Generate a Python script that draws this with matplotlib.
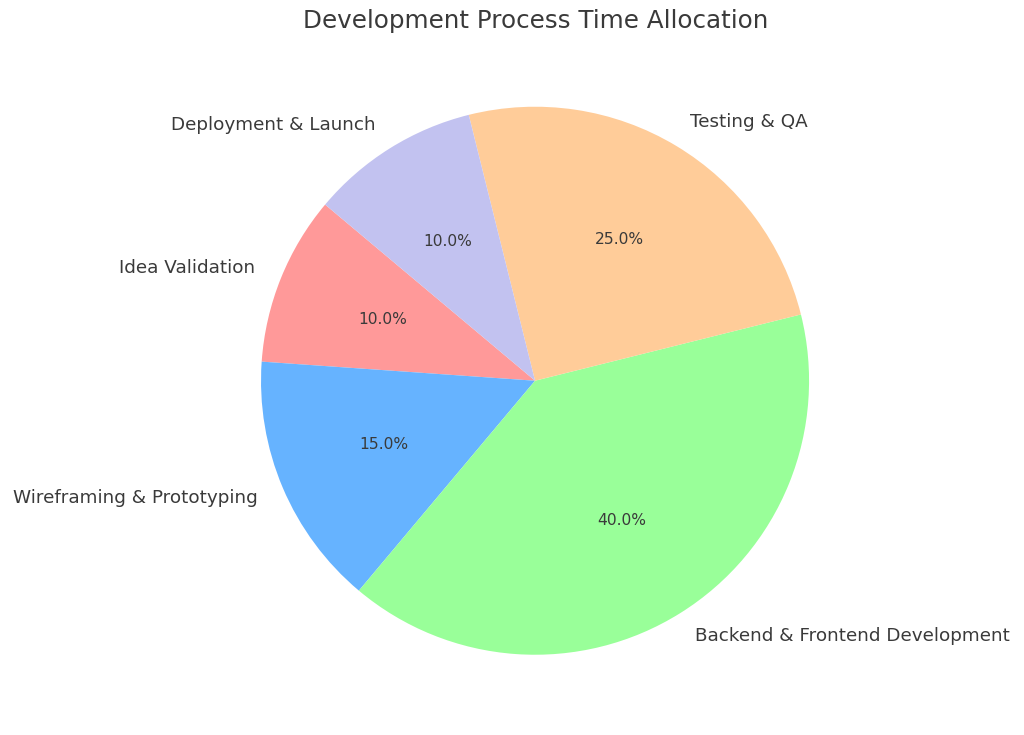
import matplotlib.pyplot as plt

# Time allocation per development stage
stages = ["Idea Validation", "Wireframing & Prototyping", "Backend & Frontend Development",
          "Testing & QA", "Deployment & Launch"]
shares = [10, 15, 40, 25, 10]
colors = ['#ff9999', '#66b3ff', '#99ff99', '#ffcc99', '#c2c2f0']

fig = plt.figure(figsize=(10.24, 7.35), dpi=100)
ax = fig.add_axes([0.188, 0.016, 0.669, 0.932])

wedges, texts, autotexts = ax.pie(shares, labels=stages, colors=colors, autopct='%1.1f%%',
                                  startangle=140, textprops={'color': '#3a3a3a'})
for t in texts:
    t.set_fontsize(13.2)
for t in autotexts:
    t.set_fontsize(11.2)
ax.axis('equal')
ax.set_xlim(-1.25, 1.25)
ax.set_ylim(-1.25, 1.25)

fig.suptitle("Development Process Time Allocation", fontsize=17.7, color='#3a3a3a',
             x=0.523, y=0.988)

plt.savefig('out.png')
